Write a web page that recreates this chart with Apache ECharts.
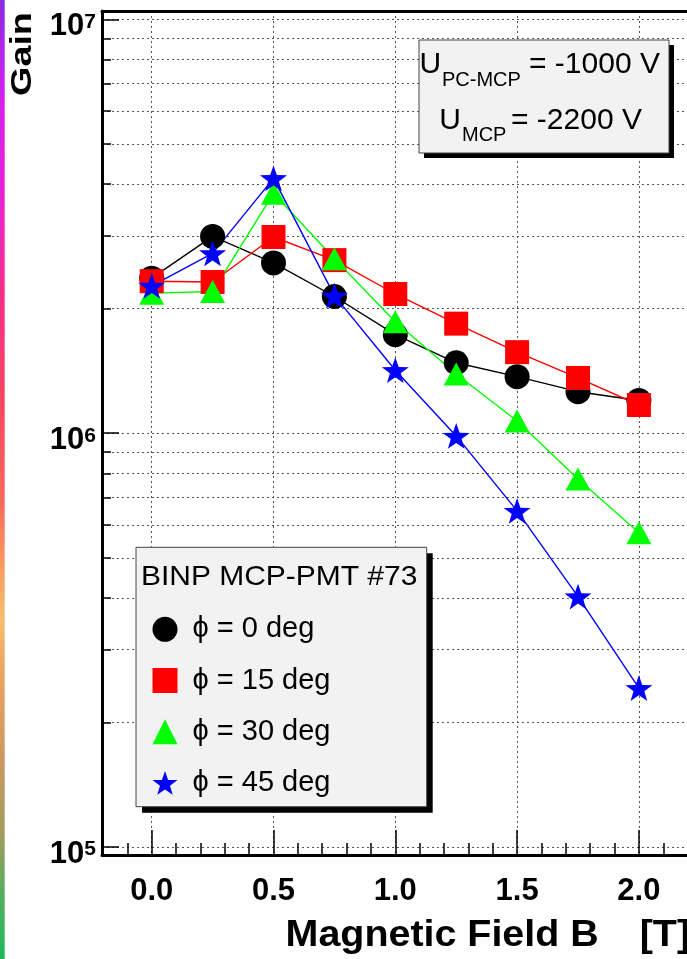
<!DOCTYPE html>
<html>
<head>
<meta charset="utf-8">
<script src="https://cdn.jsdelivr.net/npm/echarts@6/dist/echarts.min.js"></script>
<style>
  html, body { margin: 0; padding: 0; background: #ffffff; }
  #chart { width: 687px; height: 959px; }
</style>
</head>
<body>
<div id="chart"></div>
<script>
// Magnetic field values [T]
const fieldB = [0.0, 0.25, 0.5, 0.75, 1.0, 1.25, 1.5, 1.75, 2.0];

// Gain for each tilt angle phi
const gainPhi0  = [2.37e6, 2.99e6, 2.58e6, 2.14e6, 1.73e6, 1.48e6, 1.37e6, 1.26e6, 1.20e6];
const gainPhi15 = [2.33e6, 2.32e6, 2.98e6, 2.62e6, 2.17e6, 1.84e6, 1.57e6, 1.36e6, 1.17e6];
const gainPhi30 = [2.18e6, 2.20e6, 3.80e6, 2.64e6, 1.86e6, 1.39e6, 1.07e6, 7.75e5, 5.75e5];
const gainPhi45 = [2.27e6, 2.72e6, 4.13e6, 2.15e6, 1.42e6, 9.85e5, 6.49e5, 4.03e5, 2.42e5];

const seriesNames = ['\u03D5 = 0 deg', '\u03D5 = 15 deg', '\u03D5 = 30 deg', '\u03D5 = 45 deg'];

// Axis ticks
const xMajorTicks = [0.0, 0.5, 1.0, 1.5, 2.0];
const xMinorTicks = [-0.1, 0.1, 0.2, 0.3, 0.4, 0.6, 0.7, 0.8, 0.9, 1.1, 1.2, 1.3, 1.4,
                     1.6, 1.7, 1.8, 1.9, 2.1];
const yMajorTicks = [1e5, 1e6, 1e7];
const yMinorTicks = [2e5, 3e5, 4e5, 5e5, 6e5, 7e5, 8e5, 9e5,
                     2e6, 3e6, 4e6, 5e6, 6e6, 7e6, 8e6, 9e6];

// Text
const legendTitle = 'BINP MCP-PMT #73';
const xTitle = 'Magnetic Field B';
const xUnit = '[T]';
const yTitle = 'Gain';

const FONT = "'Liberation Sans', Arial, Helvetica, sans-serif";
const STAR = 'path://M50 0 L61.76 33.82 L97.55 34.55 L69.02 56.18 L79.39 90.45 L50 70 L20.61 90.45 L30.98 56.18 L2.45 34.55 L38.24 33.82 Z';

const styles = [
  { color: '#000000', symbol: 'circle',   size: 25 },
  { color: '#ff0000', symbol: 'rect',     size: 24 },
  { color: '#00ff00', symbol: 'triangle', size: [25, 23] },
  { color: '#0000ff', symbol: STAR,       size: 27 }
];
const gains = [gainPhi0, gainPhi15, gainPhi30, gainPhi45];

const X_MIN = -0.204, X_MAX = 2.1974;
const Y_MIN = 95650, Y_MAX = 1.048e7;

const gridDots = { type: [2, 3], color: '#555555', width: 1 };

const chart = echarts.init(document.getElementById('chart'), null, { renderer: 'canvas' });

const option = {
  animation: false,
  backgroundColor: '#ffffff',
  grid: { left: 102, top: 11, right: 0, bottom: 104, containLabel: false, outerBoundsMode: 'none' },
  xAxis: [
    {
      type: 'value', min: X_MIN, max: X_MAX, position: 'bottom', z: 3,
      axisLine: { show: true, onZero: false, lineStyle: { color: '#000', width: 3 } },
      axisTick: { show: true, inside: true, length: 25, customValues: xMajorTicks,
                  lineStyle: { color: '#000', width: 1.5 } },
      axisLabel: { show: true, customValues: xMajorTicks, margin: 21,
                   formatter: v => v.toFixed(1),
                   color: '#000', fontSize: 31, lineHeight: 31, fontWeight: 'bold', fontFamily: FONT },
      splitLine: { show: true, lineStyle: gridDots }
    },
    {
      type: 'value', min: X_MIN, max: X_MAX, position: 'bottom', z: 3,
      axisLine: { show: false, onZero: false },
      axisTick: { show: true, inside: true, length: 12, customValues: xMinorTicks,
                  lineStyle: { color: '#000', width: 1.5 } },
      axisLabel: { show: false },
      splitLine: { show: false }
    },
    {
      type: 'value', min: X_MIN, max: X_MAX, position: 'top', z: 3,
      axisLine: { show: true, onZero: false, lineStyle: { color: '#000', width: 3 } },
      axisTick: { show: false }, axisLabel: { show: false }, splitLine: { show: false }
    }
  ],
  yAxis: [
    {
      type: 'log', logBase: 10, min: Y_MIN, max: Y_MAX, position: 'left', z: 3,
      axisLine: { show: true, onZero: false, lineStyle: { color: '#000', width: 3 } },
      axisTick: { show: true, inside: true, length: 17, customValues: yMajorTicks,
                  lineStyle: { color: '#000', width: 1.5 } },
      axisLabel: {
        show: true, customValues: yMajorTicks, margin: 6, padding: [15, 0, 0, 0],
        color: '#000', fontSize: 31, fontWeight: 'bold', fontFamily: FONT, lineHeight: 31,
        formatter: v => '{b|10}{s|' + Math.round(Math.log10(v)) + '}',
        rich: {
          b: { fontSize: 31, fontWeight: 'bold', color: '#000', fontFamily: FONT, lineHeight: 31 },
          s: { fontSize: 21, fontWeight: 'bold', color: '#000', fontFamily: FONT, lineHeight: 12, verticalAlign: 'top' }
        }
      },
      splitLine: { show: true, lineStyle: gridDots }
    },
    {
      type: 'log', logBase: 10, min: Y_MIN, max: Y_MAX, position: 'left', z: 3,
      axisLine: { show: false, onZero: false },
      axisTick: { show: true, inside: true, length: 9, customValues: yMinorTicks,
                  lineStyle: { color: '#000', width: 1.5 } },
      axisLabel: { show: false },
      splitLine: { show: true, lineStyle: gridDots }
    }
  ],
  legend: {
    orient: 'vertical', left: 152.5, top: 614.8, padding: 0,
    itemWidth: 25, itemHeight: 25, itemGap: 22.2, z: 20, selectedMode: false,
    data: seriesNames.map((n, i) => ({ name: n, icon: styles[i].symbol })),
    textStyle: { fontSize: 29, color: '#000', fontFamily: FONT, lineHeight: 25, padding: [0, 0, 0, 10] }
  },
  series: seriesNames.map((name, i) => ({
    name: name,
    type: 'line',
    xAxisIndex: 0, yAxisIndex: 0,
    data: fieldB.map((b, k) => [b, gains[i][k]]),
    symbol: styles[i].symbol,
    symbolSize: styles[i].size,
    symbolKeepAspect: true,
    showAllSymbol: true,
    z: 5,
    itemStyle: { color: styles[i].color, opacity: 1 },
    lineStyle: { color: styles[i].color, width: 1.4 },
    emphasis: { disabled: true }
  })),
  graphic: [
    // coloured strip along the left edge
    {
      type: 'rect', z: 30, shape: { x: 0, y: 0, width: 4.7, height: 959 },
      style: {
        fill: new echarts.graphic.LinearGradient(0, 0, 0, 1, [
          { offset: 0.00, color: '#8a2be2' },
          { offset: 0.10, color: '#d51ff0' },
          { offset: 0.20, color: '#e822d8' },
          { offset: 0.30, color: '#f52d8a' },
          { offset: 0.42, color: '#f5465f' },
          { offset: 0.52, color: '#f8685c' },
          { offset: 0.60, color: '#f8a262' },
          { offset: 0.645, color: '#f5be6c' },
          { offset: 0.70, color: '#eca462' },
          { offset: 0.80, color: '#c99860' },
          { offset: 0.87, color: '#a29c5e' },
          { offset: 0.93, color: '#58ae5e' },
          { offset: 1.00, color: '#1cb95c' }
        ])
      }
    },
    // voltage box
    { type: 'rect', z: 10, shape: { x: 424, y: 45, width: 250, height: 113 }, style: { fill: '#000' } },
    { type: 'rect', z: 11, shape: { x: 419, y: 40, width: 250, height: 113 },
      style: { fill: '#f2f2f2', stroke: '#444', lineWidth: 1 } },
    { type: 'text', z: 12, x: 419.5, y: 64.6,
      style: { text: 'U', fontSize: 30, fontFamily: FONT, fill: '#000', align: 'left', verticalAlign: 'middle' } },
    { type: 'text', z: 12, x: 442, y: 80.4,
      style: { text: 'PC-MCP', fontSize: 20, fontFamily: FONT, fill: '#000', align: 'left', verticalAlign: 'middle' } },
    { type: 'text', z: 12, x: 529, y: 64.6,
      style: { text: '= -1000 V', fontSize: 30, fontFamily: FONT, fill: '#000', align: 'left', verticalAlign: 'middle' } },
    { type: 'text', z: 12, x: 439.3, y: 120.6,
      style: { text: 'U', fontSize: 30, fontFamily: FONT, fill: '#000', align: 'left', verticalAlign: 'middle' } },
    { type: 'text', z: 12, x: 462, y: 135.8,
      style: { text: 'MCP', fontSize: 20, fontFamily: FONT, fill: '#000', align: 'left', verticalAlign: 'middle' } },
    { type: 'text', z: 12, x: 511, y: 120.6,
      style: { text: '= -2200 V', fontSize: 30, fontFamily: FONT, fill: '#000', align: 'left', verticalAlign: 'middle' } },
    // legend box
    { type: 'rect', z: 10, shape: { x: 142, y: 553.3, width: 290.7, height: 259.4 }, style: { fill: '#000' } },
    { type: 'rect', z: 11, shape: { x: 136, y: 547.3, width: 290.7, height: 259.4 },
      style: { fill: '#f2f2f2', stroke: '#444', lineWidth: 1 } },
    { type: 'text', z: 12, x: 141, y: 577, scaleX: 1.07,
      style: { text: legendTitle, fontSize: 28, fontFamily: FONT, fill: '#000', align: 'left', verticalAlign: 'middle' } },
    // axis titles
    { type: 'text', z: 12, x: 22.7, y: 54, rotation: Math.PI / 2, scaleX: 1.3,
      style: { text: yTitle, fontSize: 29, fontWeight: 'bold', fontFamily: FONT, fill: '#000', align: 'center', verticalAlign: 'middle' } },
    { type: 'text', z: 12, x: 285.6, y: 935.5, scaleX: 1.065,
      style: { text: xTitle, fontSize: 37, fontWeight: 'bold', fontFamily: FONT, fill: '#000', align: 'left', verticalAlign: 'middle' } },
    { type: 'text', z: 12, x: 639.7, y: 935.5, scaleX: 1.065,
      style: { text: xUnit, fontSize: 37, fontWeight: 'bold', fontFamily: FONT, fill: '#000', align: 'left', verticalAlign: 'middle' } }
  ]
};

chart.setOption(option);
</script>
</body>
</html>
